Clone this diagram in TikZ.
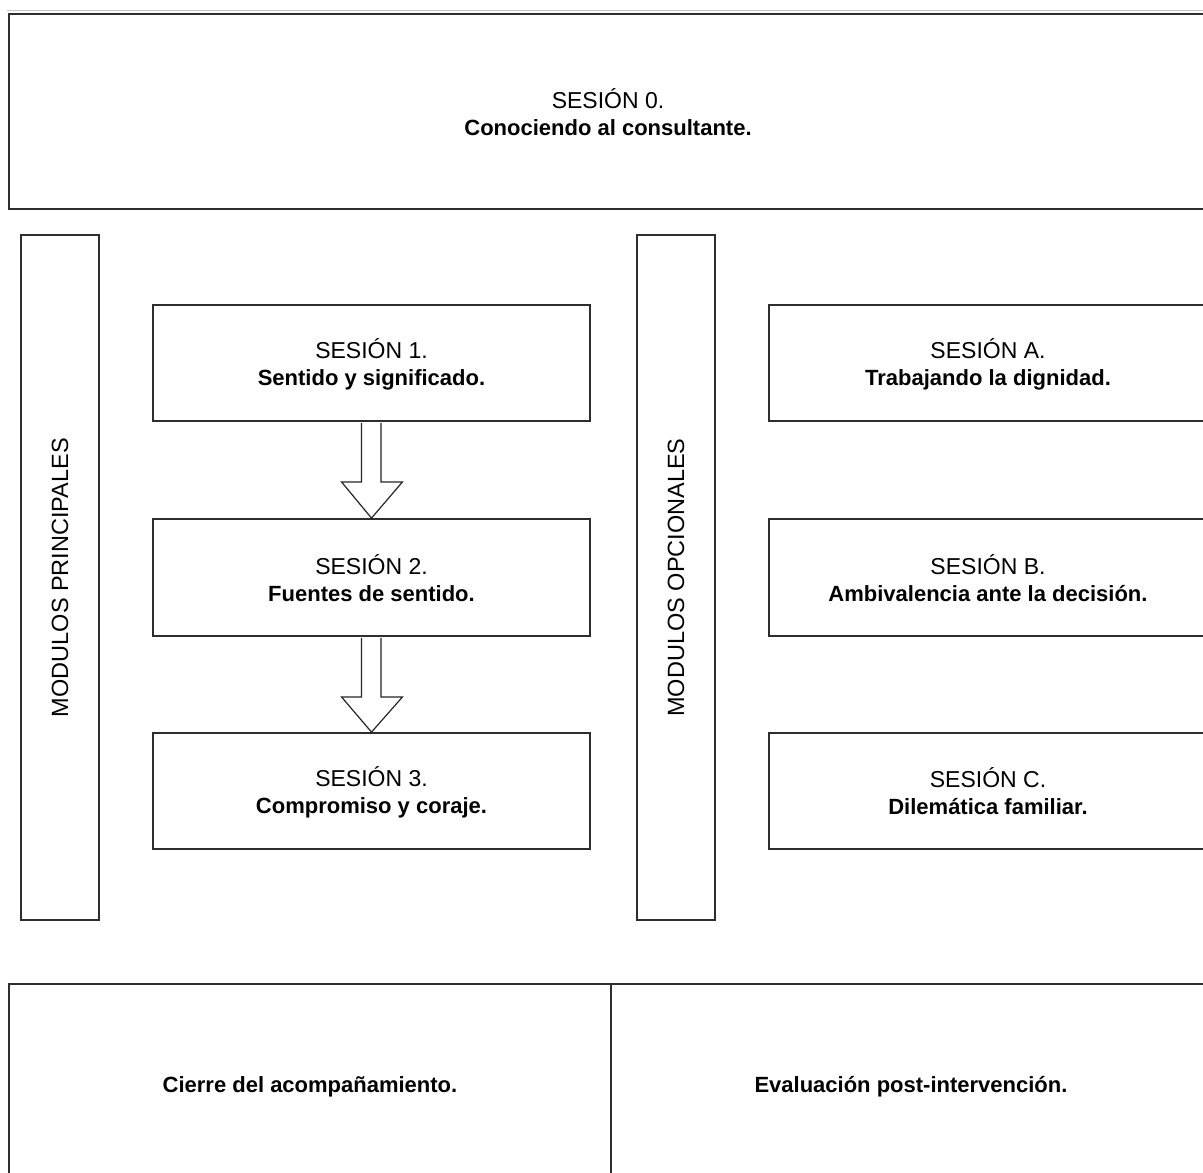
\documentclass[tikz,border=0pt]{standalone}
\usepackage{fontspec}
\setmainfont{Liberation Sans}
\usetikzlibrary{calc}
\newcommand{\mystrut}{\rule[-3pt]{0pt}{26pt}}
\newcommand{\rl}[1]{{\fontsize{23}{27}\selectfont\mystrut #1}}
\newcommand{\bl}[1]{{\fontsize{22}{27}\selectfont\bfseries\mystrut #1}}
\begin{document}
\begin{tikzpicture}[x=1pt,y=-1pt,
  frame/.style={draw=black!82, line width=1.8pt, rectangle, inner sep=0pt,
    align=center, font=\fontsize{23}{27}\selectfont},
  vlabel/.style={rotate=90, inner sep=0pt, font=\fontsize{23.5}{28}\selectfont},
  hollowarrow/.style={draw=black!85, line width=1.2pt, fill=white, line join=miter}]
\useasboundingbox (0,0) rectangle (1203,1173);
\clip (0,0) rectangle (1203,1173);
\fill[white] (0,0) rectangle (1203,1173);
\draw[black!22, line width=1.6pt] (7,10.5) -- (1203,10.5);

% top box
\node[frame, minimum width=1198pt, minimum height=195pt] (s0) at (608,111.5)
  {\rl{SESIÓN 0.}\\\bl{Conociendo al consultante.}};

% side label boxes
\node[frame, minimum width=78pt, minimum height=685pt] (mp) at (60,577.5) {};
\node[vlabel] (mpl) at (mp.center) {MODULOS PRINCIPALES};
\node[frame, minimum width=78pt, minimum height=685pt] (mo) at (676,577.5) {};
\node[vlabel] (mol) at (mo.center) {MODULOS OPCIONALES};

% main sessions
\node[frame, minimum width=437pt, minimum height=116pt] (s1) at (371.5,363)
  {\rl{SESIÓN 1.}\\\bl{Sentido y significado.}};
\node[frame, minimum width=437pt, minimum height=117pt] (s2) at (371.5,577.5)
  {\rl{SESIÓN 2.}\\\bl{Fuentes de sentido.}};
\node[frame, minimum width=437pt, minimum height=116pt] (s3) at (371.5,791)
  {\rl{SESIÓN 3.}\\\bl{Compromiso y coraje.}};

% optional sessions
\node[frame, minimum width=438pt, minimum height=116pt] (sa) at (988,363)
  {\rl{SESIÓN A.}\\\bl{Trabajando la dignidad.}};
\node[frame, minimum width=438pt, minimum height=117pt] (sb) at (988,577.5)
  {\rl{SESIÓN B.}\\\bl{Ambivalencia ante la decisión.}};
\node[frame, minimum width=438pt, minimum height=116pt] (sc) at (988,791)
  {\rl{SESIÓN C.}\\\bl{Dilemática familiar.}};

% bottom boxes
\node[frame, minimum width=602pt, minimum height=198pt] (cl) at (310,1083)
  {\bl{Cierre del acompañamiento.}};
\node[frame, minimum width=600pt, minimum height=198pt] (ev) at (911,1083)
  {\bl{Evaluación post-intervención.}};

% hollow arrows
\draw[hollowarrow] ($(s1.south)+(-10,1)$) -- ++(0,59) -- ++(-20,0) -- (s2.north)
  -- ($(s1.south)+(31,60)$) -- ++(-21.5,0) -- ($(s1.south)+(9.5,1)$);
\draw[hollowarrow] ($(s2.south)+(-10,1)$) -- ++(0,59) -- ++(-20,0) -- (s3.north)
  -- ($(s2.south)+(31,60)$) -- ++(-21.5,0) -- ($(s2.south)+(9.5,1)$);
\end{tikzpicture}
\end{document}
